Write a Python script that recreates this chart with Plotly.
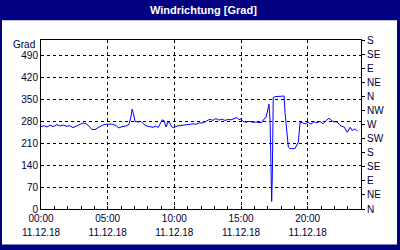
import plotly.graph_objects as go

day = "2018-12-11"
times = ["00:00","00:14","00:27","00:41","00:54","01:12","01:26","01:40","01:57","02:10",
         "02:24","02:37","02:55","03:09","03:22","03:36","03:49","04:03","04:17","04:30",
         "04:44","05:02","05:20","05:37","05:51","06:04","06:22","06:36","06:45","06:50",
         "06:56","07:03","07:17","07:30","07:44","07:57","08:11","08:24","08:38","08:47",
         "09:00","09:05","09:14","09:23","09:31","09:40","09:49","09:58","10:12","10:30",
         "10:48","11:06","11:24","11:38","11:52","12:09","12:26","12:40","12:54","13:07",
         "13:21","13:34","13:48","14:01","14:15","14:29","14:42","14:51","15:00","15:09",
         "15:23","15:36","15:55","16:08","16:21","16:34","16:43","16:53","17:01","17:06",
         "17:11","17:14","17:18","17:21","17:25","17:33","17:56","18:14","18:18","18:26",
         "18:33","18:41","19:03","19:18","19:26","19:35","19:49","20:02","20:15","20:28",
         "20:42","20:55","21:09","21:23","21:36","21:54","22:13","22:26","22:44","22:58",
         "23:11","23:20","23:34","23:45"]
values = [263,266,262,268,263,270,265,268,264,266,
          260,265,271,275,273,265,254,254,260,265,
          270,271,271,267,259,263,265,270,295,319,
          305,280,278,280,270,265,262,261,265,260,
          277,285,282,262,278,275,262,260,265,267,
          268,270,272,271,275,275,282,287,283,289,
          284,287,283,286,285,288,292,285,288,280,
          277,280,277,278,276,277,287,293,315,335,
          280,103,24,108,356,359,361,361,309,235,
          198,193,193,214,277,276,272,277,271,279,
          275,280,272,283,290,279,278,267,262,245,
          261,251,256,248]

left_ticks = [0, 70, 140, 210, 280, 350, 420, 490]
right_ticks = [0, 45, 90, 135, 180, 225, 270, 315, 360, 405, 450, 495, 540]
right_labels = ["N", "NE", "E", "SE", "S", "SW", "W", "NW", "N", "NE", "E", "SE", "S"]
x_ticks = ["00:00", "05:00", "10:00", "15:00", "20:00"]
title = "Windrichtung [Grad]"
unit = "Grad"

xs = [f"{day} {t}" for t in times]
xt = [f"{day} {t}" for t in x_ticks]
xrange_ = [f"{day} 00:00", "2018-12-12 00:00"]

W, H = 400, 250
L, R, T, B = 41, 39, 40, 39
pw, ph = W - L - R, H - T - B
def px(x): return (x - L) / pw
def py(y): return (H - B - y) / ph

navy = "#000080"
txt = "#000033"
font = "Liberation Sans"

fig = go.Figure()
fig.add_trace(go.Scatter(x=xs, y=values, mode="lines",
                         line=dict(color="#0000ff", width=1), showlegend=False,
                         xaxis="x", yaxis="y"))
# invisible trace for right axis
fig.add_trace(go.Scatter(x=[xs[0]], y=[None], mode="lines", showlegend=False,
                         xaxis="x", yaxis="y2", hoverinfo="skip"))

fig.update_layout(
    width=W, height=H,
    margin=dict(l=L, r=R, t=T, b=B, pad=0),
    paper_bgcolor=navy, plot_bgcolor="white",
    font=dict(family=font, size=10, color=txt),
    xaxis=dict(type="date", range=xrange_, tickvals=xt, tickformat="%H:%M",
               showgrid=True, gridcolor="black", griddash="3px,3px", gridwidth=1,
               showline=True, linecolor="black", linewidth=1, mirror=True,
               ticks="inside", ticklen=3, tickcolor="black",
               minor=dict(dtick=3600000, ticks="inside", ticklen=3, tickcolor="black", showgrid=False),
               zeroline=False, fixedrange=True),
    xaxis2=dict(type="date", range=xrange_, tickvals=xt, tickformat="%d.%m.%y",
                overlaying="x", side="bottom", showgrid=False, showline=False,
                ticks="", ticklabelstandoff=16, matches="x"),
    yaxis=dict(range=[0, 540], tickvals=left_ticks,
               showgrid=True, gridcolor="black", griddash="3px,3px", gridwidth=1,
               showline=True, linecolor="black", linewidth=1, mirror=True,
               ticks="", zeroline=False, fixedrange=True),
    yaxis2=dict(range=[0, 540], tickvals=right_ticks, ticktext=right_labels,
                overlaying="y", side="right", showgrid=False, showline=False,
                ticks="outside", ticklen=3, tickcolor="black", zeroline=False),
    shapes=[
        dict(type="rect", xref="paper", yref="paper", x0=px(2), x1=px(397), y0=py(20), y1=py(247),
             fillcolor="white", line=dict(width=0), layer="below"),
    ],
    annotations=[
        dict(text=f"<b>{title}</b>", xref="paper", yref="paper", x=px(203), y=py(10),
             showarrow=False, font=dict(color="white", size=11, family=font),
             xanchor="center", yanchor="middle"),
        dict(text=unit, xref="paper", yref="paper", x=px(37), y=py(45),
             showarrow=False, xanchor="right", yanchor="middle"),
    ],
)
# attach a dummy trace to xaxis2 so its ticks render
fig.add_trace(go.Scatter(x=[xs[0]], y=[None], mode="lines", showlegend=False,
                         xaxis="x2", yaxis="y", hoverinfo="skip"))

fig.write_html("out.html")
